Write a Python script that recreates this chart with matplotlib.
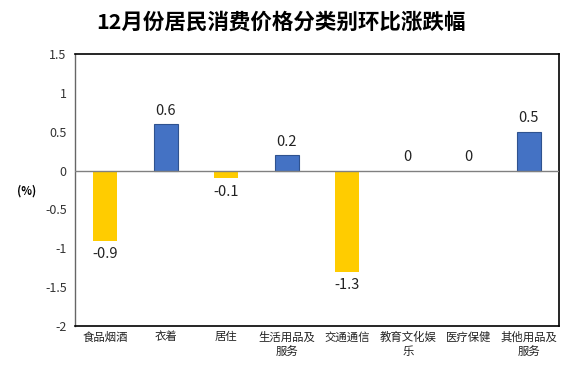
import numpy as np
import matplotlib.pyplot as plt

plt.rcParams['font.family'] = ['Noto Sans CJK SC', 'DejaVu Sans']

categories = ['食品烟酒', '衣着', '居住', '生活用品及\n服务', '交通通信', '教育文化娱\n乐', '医疗保健', '其他用品及\n服务']
values = [-0.9, 0.6, -0.1, 0.2, -1.3, 0, 0, 0.5]
yticks = [-2, -1.5, -1, -0.5, 0, 0.5, 1, 1.5]
ytick_labels = ['-2', '-1.5', '-1', '-0.5', '0', '0.5', '1', '1.5']

fig = plt.figure(figsize=(5.74, 3.74), dpi=100)
ax = fig.add_axes([0.1307, 0.128, 0.8433, 0.728])

x = np.arange(len(categories))
for xi, v in zip(x, values):
    if v < 0:
        ax.bar(xi, v, width=0.4, color='#FFCC00', zorder=2)
    elif v > 0:
        ax.bar(xi, v, width=0.4, color='#4472C4', edgecolor='#2F528F', linewidth=0.8, zorder=2)
    # value labels
    if v < 0:
        ax.text(xi, v - 0.08, f'{v:g}', ha='center', va='top', fontsize=10.5, color='#222222')
    else:
        ax.text(xi, v + 0.08, f'{v:g}', ha='center', va='bottom', fontsize=10.5, color='#222222')

ax.axhline(0, color='#808080', linewidth=1, zorder=3)
ax.set_xlim(-0.5, len(categories) - 0.5)
ax.set_ylim(-2, 1.5)
ax.set_yticks(yticks)
ax.set_yticklabels(ytick_labels, fontsize=9, color='#333333')
ax.set_xticks(x)
ax.set_xticklabels(categories, fontsize=8.2, color='#222222', linespacing=1.4)
ax.tick_params(axis='both', length=0, pad=6)
ax.tick_params(axis='x', pad=4)
for s in ['top', 'right', 'bottom']:
    ax.spines[s].set_color('black')
    ax.spines[s].set_linewidth(1.2)
ax.spines['left'].set_color('#666666')
ax.spines['left'].set_linewidth(1)

fig.text(0.047, 0.49, '(%)', fontsize=8, fontweight='bold', ha='center', va='center')
fig.text(0.489, 0.94, '12月份居民消费价格分类别环比涨跌幅', fontsize=15.5, fontweight='bold', ha='center', va='center')

plt.savefig('out.png', dpi=100)
